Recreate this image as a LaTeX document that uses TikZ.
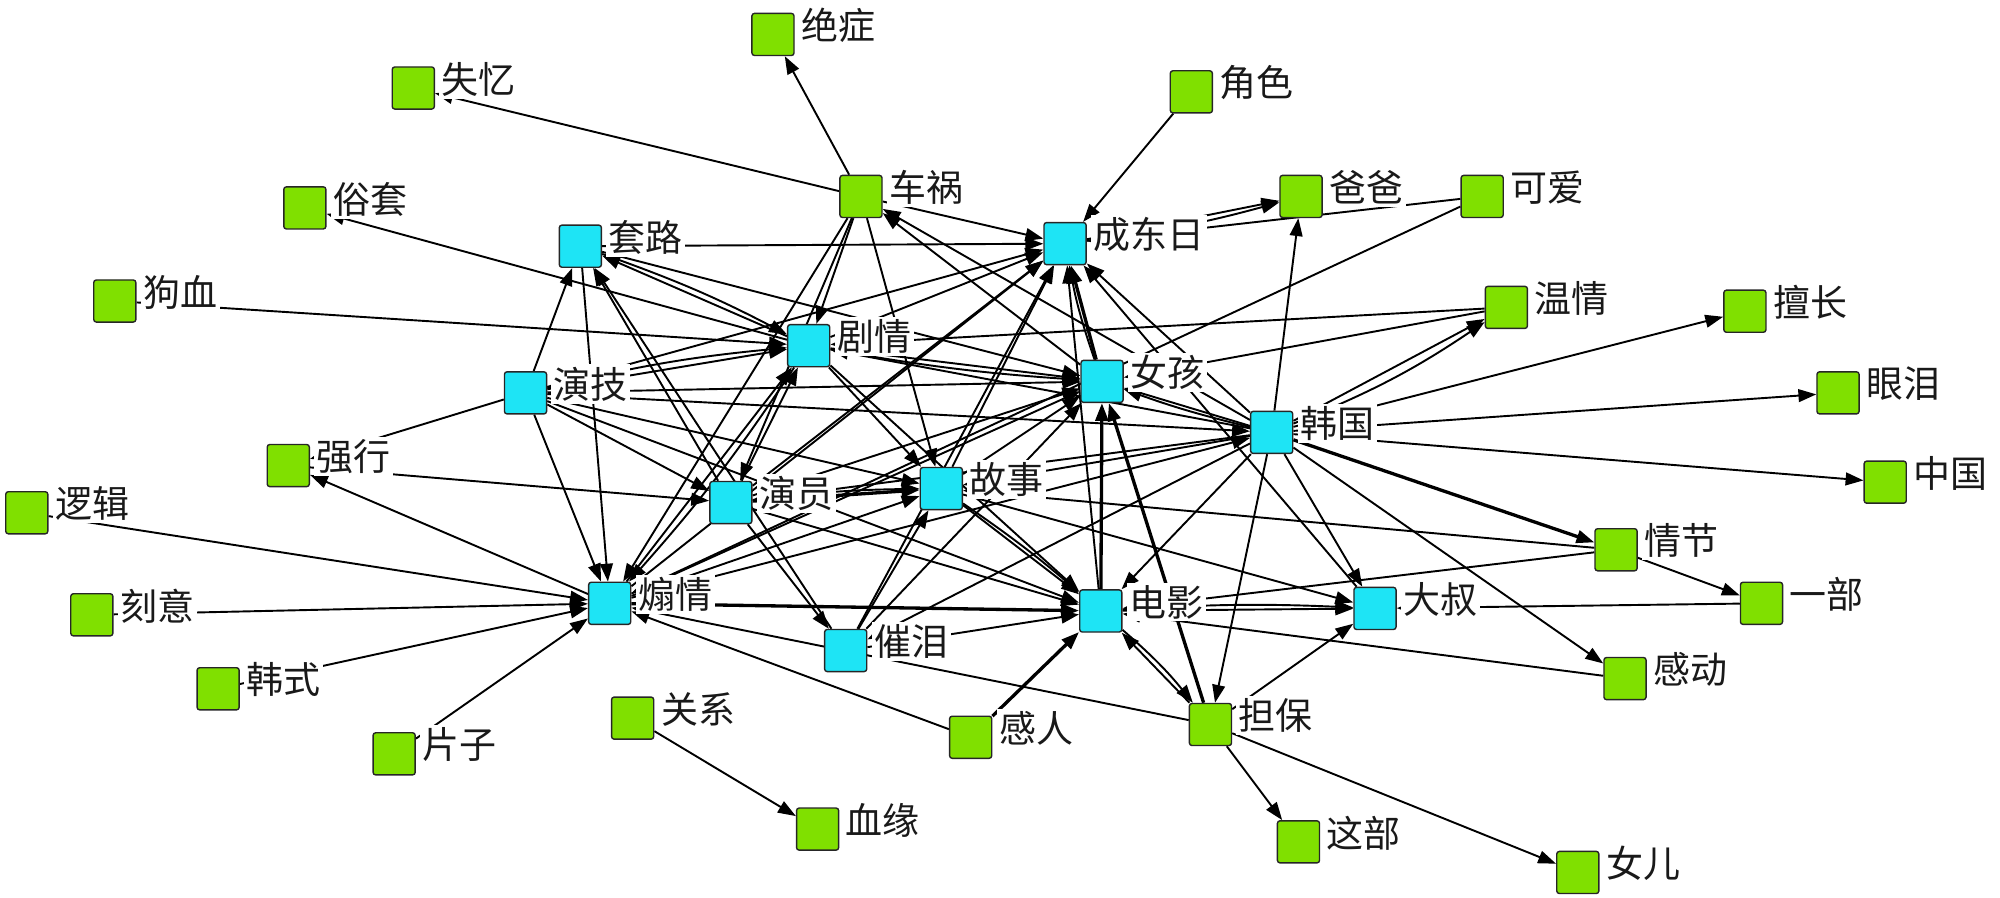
\documentclass[tikz,border=0pt]{standalone}
\usepackage{fontspec}
\newfontfamily\cjk{Noto Sans CJK SC}
\usetikzlibrary{arrows.meta}
\pgfdeclarelayer{bg}
\pgfsetlayers{bg,main}
\definecolor{gn}{HTML}{80E000}
\definecolor{cy}{HTML}{1EE4F5}
\newcommand\GNode[4]{\node[gsq,label={[lab]right:#4}] (#1) at (#2,#3) {};}
\newcommand\CNode[4]{\node[csq,label={[lab]right:#4}] (#1) at (#2,#3) {};}
\begin{document}
\begin{tikzpicture}[x=1pt,y=-1pt,
  sq/.style={draw=black!85, line width=1.1pt, rounded corners=2pt, minimum width=33pt, minimum height=33pt, inner sep=0pt},
  gsq/.style={sq, fill=gn},
  csq/.style={sq, fill=cy},
  lab/.style={fill=white, inner sep=2pt, xshift=3pt, yshift=7pt, text=black!90, font=\cjk\fontsize{29}{31}\selectfont},
  ed/.style={-{Triangle[length=14pt,width=10pt]}, line width=1.5pt, black},
  th/.style={ed, line width=2.6pt},
]
\useasboundingbox (0,0) rectangle (1568,704);
% green nodes
\GNode{jz}{606}{27}{绝症}
\GNode{sy}{324}{69}{失忆}
\GNode{js}{934}{72}{角色}
\GNode{st}{239}{163}{俗套}
\GNode{ch}{675}{154}{车祸}
\GNode{bb}{1020}{154}{爸爸}
\GNode{ka}{1162}{154}{可爱}
\GNode{gx}{90}{236}{狗血}
\GNode{wq}{1181}{241}{温情}
\GNode{sc}{1368}{244}{擅长}
\GNode{yl}{1441}{308}{眼泪}
\GNode{qx}{226}{365}{强行}
\GNode{zg}{1478}{378}{中国}
\GNode{lj}{21}{402}{逻辑}
\GNode{qj}{1267}{431}{情节}
\GNode{ky}{72}{482}{刻意}
\GNode{yb}{1381}{473}{一部}
\GNode{hs}{171}{540}{韩式}
\GNode{gd}{1274}{532}{感动}
\GNode{pz}{309}{591}{片子}
\GNode{gxi}{496}{563}{关系}
\GNode{gr}{761}{578}{感人}
\GNode{db}{949}{568}{担保}
\GNode{xy}{641}{650}{血缘}
\GNode{zb}{1018}{660}{这部}
\GNode{ne}{1237}{684}{女儿}
% cyan nodes
\CNode{tl}{455}{193}{套路}
\CNode{cd}{835}{191}{成东日}
\CNode{jq}{634}{271}{剧情}
\CNode{nh}{864}{299}{女孩}
\CNode{yj}{412}{308}{演技}
\CNode{hg}{997}{339}{韩国}
\CNode{yy}{573}{394}{演员}
\CNode{gs}{738}{383}{故事}
\CNode{sh}{478}{473}{煽情}
\CNode{dy}{863}{479}{电影}
\CNode{ds}{1078}{477}{大叔}
\CNode{cl}{663}{510}{催泪}
\begin{pgfonlayer}{bg}
\draw[ed] (ch) -- (jz);
\draw[ed] (ch) -- (sy);
\draw[ed] (js) -- (cd);
\draw[ed] (cd) -- (bb);
\draw[ed] (cd) to[bend right=4] (bb);
\draw[ed] (ka) -- (cd);
\draw[ed] (hg) -- (bb);
\draw[ed] (jq) -- (st);
\draw[ed] (gx) -- (jq);
\draw[ed] (tl) -- (cd);
\draw[ed] (ch) -- (cd);
\draw[ed] (ch) -- (jq);
\draw[ed] (ch) -- (sh);
\draw[ed] (ch) -- (yy);
\draw[ed] (ch) -- (gs);
\draw[ed] (nh) -- (ch);
\draw[ed] (hg) -- (ch);
\draw[ed] (yj) -- (tl);
\draw[ed] (tl) -- (sh);
\draw[ed] (yy) -- (tl);
\draw[ed] (jq) -- (tl);
\draw[ed] (tl) to[bend left=4] (jq);
\draw[ed] (cl) -- (tl);
\draw[ed] (tl) -- (nh);
\draw[ed] (yj) -- (qx);
\draw[ed] (yj) -- (jq);
\draw[ed] (yj) to[bend left=4] (jq);
\draw[ed] (yj) -- (cd);
\draw[ed] (yj) -- (nh);
\draw[ed] (yj) -- (sh);
\draw[ed] (yj) -- (yy);
\draw[ed] (yj) -- (gs);
\draw[ed] (yj) -- (dy);
\draw[ed] (yj) -- (hg);
\draw[ed] (lj) -- (sh);
\draw[ed] (ky) -- (sh);
\draw[ed] (hs) -- (sh);
\draw[ed] (pz) -- (sh);
\draw[ed] (sh) -- (qx);
\draw[th] (sh) -- (dy);
\draw[ed] (db) -- (sh);
\draw[ed] (gr) -- (sh);
\draw[ed] (sh) -- (jq);
\draw[ed] (jq) to[bend left=4] (sh);
\draw[ed] (sh) -- (nh);
\draw[ed] (sh) -- (cd);
\draw[ed] (sh) -- (hg);
\draw[ed] (sh) -- (gs);
\draw[ed] (ka) -- (sh);
\draw[ed] (qx) -- (yy);
\draw[th] (yy) -- (gs);
\draw[ed] (yy) to[bend left=3] (gs);
\draw[ed] (yy) -- (cl);
\draw[ed] (yy) -- (jq);
\draw[ed] (yy) -- (dy);
\draw[ed] (yy) -- (nh);
\draw[ed] (yy) -- (cd);
\draw[ed] (jq) -- (cd);
\draw[ed] (jq) -- (nh);
\draw[ed] (jq) to[bend right=3] (nh);
\draw[ed] (jq) -- (dy);
\draw[ed] (jq) -- (gs);
\draw[ed] (wq) -- (jq);
\draw[ed] (hg) -- (jq);
\draw[ed] (gs) -- (nh);
\draw[ed] (gs) -- (dy);
\draw[ed] (gs) to[bend left=3] (dy);
\draw[ed] (gs) -- (cd);
\draw[ed] (hg) -- (gs);
\draw[ed] (qj) -- (gs);
\draw[ed] (cl) -- (gs);
\draw[ed] (gs) -- (ds);
\draw[th] (nh) -- (cd);
\draw[ed] (nh) to[bend left=4] (cd);
\draw[th] (dy) -- (nh);
\draw[ed] (dy) -- (cd);
\draw[ed] (hg) -- (nh);
\draw[ed] (hg) to[bend left=3] (nh);
\draw[ed] (hg) -- (cd);
\draw[ed] (wq) -- (nh);
\draw[ed] (ds) -- (cd);
\draw[th] (db) -- (nh);
\draw[ed] (hg) -- (wq);
\draw[ed] (hg) to[bend right=6] (wq);
\draw[ed] (hg) -- (sc);
\draw[ed] (hg) -- (yl);
\draw[ed] (hg) -- (zg);
\draw[th] (hg) -- (qj);
\draw[ed] (hg) -- (ds);
\draw[ed] (hg) -- (gd);
\draw[ed] (hg) -- (db);
\draw[ed] (hg) -- (dy);
\draw[ed] (hg) -- (yy);
\draw[ed] (hg) -- (cl);
\draw[ed] (dy) -- (ds);
\draw[ed] (dy) to[bend left=3] (ds);
\draw[ed] (db) -- (ds);
\draw[ed] (yb) -- (ds);
\draw[ed] (qj) -- (yb);
\draw[ed] (qj) -- (dy);
\draw[ed] (gd) -- (dy);
\draw[ed] (db) -- (dy);
\draw[ed] (dy) to[bend left=5] (db);
\draw[th] (gr) -- (dy);
\draw[ed] (cl) -- (dy);
\draw[ed] (cl) -- (nh);
\draw[ed] (cl) -- (cd);
\draw[ed] (db) -- (zb);
\draw[ed] (db) -- (ne);
\draw[ed] (gxi) -- (xy);
\end{pgfonlayer}
\end{tikzpicture}
\end{document}
